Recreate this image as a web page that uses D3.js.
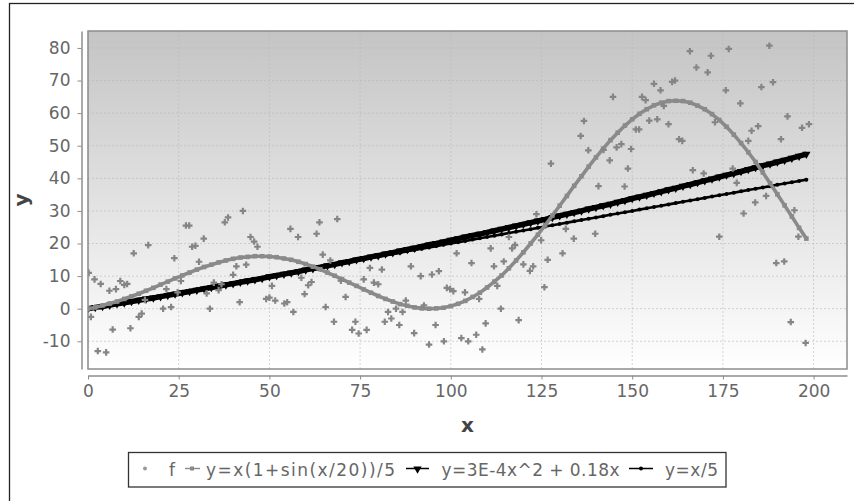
<!DOCTYPE html>
<html>
<head>
  <meta charset="utf-8" />
  <script src="https://d3js.org/d3.v7.min.js"></script>
  <style>
    body { margin: 0; background: #fff; }
    svg { display: block; font-family: "DejaVu Sans", sans-serif; }
  </style>
</head>
<body>
  <script>
    // sample positions of the three function series
    var sampleX = [0,2,4,6,8,10,12,14,16,18,20,22,24,26,28,30,32,34,36,38,
      40,42,44,46,48,50,52,54,56,58,60,62,64,66,68,70,72,74,76,78,
      80,82,84,86,88,90,92,94,96,98,100,102,104,106,108,110,112,114,116,118,
      120,122,124,126,128,130,132,134,136,138,140,142,144,146,148,150,152,154,156,158,
      160,162,164,166,168,170,172,174,176,178,180,182,184,186,188,190,192,194,196,198];

    // y=x(1+sin(x/20))/5
    var sinY = [0,0.4,1.0,1.6,2.2,3.0,3.8,4.6,5.5,6.4,
      7.4,8.3,9.3,10.2,11.1,12.0,12.8,13.5,14.2,14.8,
      15.3,15.7,15.9,16.1,16.1,16.0,15.8,15.4,15.0,14.4,
      13.7,12.9,12.1,11.1,10.1,9.1,8.0,7.0,5.9,4.9,
      3.9,3.0,2.2,1.4,0.9,0.4,0.1,0.0,0.1,0.3,
      0.8,1.5,2.4,3.6,4.9,6.5,8.3,10.2,12.4,14.8,
      17.3,20.0,22.7,25.6,28.6,31.6,34.6,37.7,40.6,43.6,
      46.4,49.1,51.7,54.0,56.2,58.1,59.8,61.2,62.4,63.2,
      63.7,63.8,63.7,63.2,62.3,61.2,59.7,57.9,55.8,53.4,
      50.8,48.0,45.0,41.8,38.5,35.1,31.7,28.3,24.8,21.5];

    // y=3E-4x^2 + 0.18x
    var quadY = [0,0.4,0.7,1.1,1.5,1.8,2.2,2.6,3.0,3.3,
      3.7,4.1,4.5,4.9,5.3,5.7,6.1,6.5,6.9,7.3,
      7.7,8.1,8.5,8.9,9.3,9.8,10.2,10.6,11.0,11.4,
      11.9,12.3,12.7,13.2,13.6,14.1,14.5,15.0,15.4,15.9,
      16.3,16.8,17.2,17.7,18.2,18.6,19.1,19.6,20.0,20.5,
      21.0,21.5,22.0,22.5,22.9,23.4,23.9,24.4,24.9,25.4,
      25.9,26.4,26.9,27.4,28.0,28.5,29.0,29.5,30.0,30.6,
      31.1,31.6,32.1,32.7,33.2,33.8,34.3,34.8,35.4,35.9,
      36.5,37.0,37.6,38.1,38.7,39.3,39.8,40.4,41.0,41.5,
      42.1,42.7,43.3,43.9,44.4,45.0,45.6,46.2,46.8,47.4];

    // y=x/5
    var linY = [0,0.4,0.8,1.2,1.6,2,2.4,2.8,3.2,3.6,
      4,4.4,4.8,5.2,5.6,6,6.4,6.8,7.2,7.6,
      8,8.4,8.8,9.2,9.6,10,10.4,10.8,11.2,11.6,
      12,12.4,12.8,13.2,13.6,14,14.4,14.8,15.2,15.6,
      16,16.4,16.8,17.2,17.6,18,18.4,18.8,19.2,19.6,
      20,20.4,20.8,21.2,21.6,22,22.4,22.8,23.2,23.6,
      24,24.4,24.8,25.2,25.6,26,26.4,26.8,27.2,27.6,
      28,28.4,28.8,29.2,29.6,30,30.4,30.8,31.2,31.6,
      32,32.4,32.8,33.2,33.6,34,34.4,34.8,35.2,35.6,
      36,36.4,36.8,37.2,37.6,38,38.4,38.8,39.2,39.6];

    // scattered series "f"
    var fX = [0.2,0.8,1.8,2.7,3.5,5,5.9,6.8,7.7,8.9,10,10.8,11.7,12.6,14,14.8,15.7,16.6,20.7,21.6,
      22.9,23.8,24.7,25.6,27,27.9,28.7,29.6,30.6,31.9,32.7,33.6,34.7,36,36.8,37.7,38.6,40,40.9,41.8,
      42.7,43.6,44.8,45.8,46.7,49.1,50,50.7,51.6,54.1,54.9,55.8,56.6,57.9,58.8,59.7,60.7,61.6,63,63.8,
      64.7,65.5,66.8,67.8,68.7,69.7,71,72.8,73.7,74.6,76,76.8,77.7,78.8,80,81,81.8,82.7,83.6,84.9,
      85.8,86.7,87.6,89,89.9,91.7,92.6,94,94.8,95.8,96.7,98.1,98.9,99.8,100.7,101.6,102.9,103.9,104.8,105.7,
      107,107.8,108.7,109.6,111,111.9,112.8,113.8,114.6,116,116.9,117.7,118.7,120,121.8,122.7,123.6,124.9,125.8,126.7,
      127.6,130.8,131.7,133.9,135.8,136.7,137.9,139.8,140.7,142.1,143.8,144.7,145.7,147,147.9,148.8,149.7,151,151.9,152.7,
      153.7,154.7,156,156.9,157.8,158.7,160,161,161.8,162.9,163.8,165.9,166.7,167.7,169.7,170.8,171.7,172.8,174,175.8,
      176.6,177.7,178.8,179.8,180.7,182,182.9,183.9,184.7,185.6,186.9,187.8,188.8,189.7,191,191.9,192.8,193.7,194.7,195.8,
      196.8,197.8,198.7];
    var fY = [11,-2.5,9,-13,7.6,-13.4,5.5,-6.4,6,8.5,7.3,7.6,-6,17,-2.5,-1.5,2.7,19.5,0,6,
      0.5,15.5,5,8.5,25.5,25.5,19,19.3,14.4,21.5,4.7,0,8,5.7,7.5,26.5,28,10.4,13,2,
      30,13.5,22,20.6,19,3,3.4,7,2.5,1.6,2,24.5,-1,22,9.5,4.5,7.2,8.2,23,26.5,
      16.6,0.5,14.8,-4,27.5,8.6,3.6,-6.5,-4,-7.6,9,-6.5,12.5,8,7.5,12,-4,-1,-3,0,
      -5,-1,2.5,13,-7.5,10,1,-11,10.5,-5,11.5,-10,6.4,6,5.4,17,-9,5,-10,14,
      -8,3,-12.5,-4.5,18.5,13,7,0,14.5,22,18.5,19.5,-3.5,13.6,11.6,13,29,21,6.6,15,
      44.5,17,24.5,21.5,53,57.6,48.6,23,37.6,48.7,45.5,65,49.5,50.5,37.5,43,49,55,55,65,
      64,57.7,69,58.1,67,62.2,56.6,69.6,70,52,51.5,79,42.5,74,41.5,72.5,77.6,57.2,22.1,67,
      79.7,43,38.6,63,29.2,51.5,54.6,32.6,56,68,34.6,80.7,69.5,14,52,14.5,59,-4.1,30.2,22.1,
      55.5,-10.5,56.6];

    var xTicks = [0, 25, 50, 75, 100, 125, 150, 175, 200];
    var yTicks = [-10, 0, 10, 20, 30, 40, 50, 60, 70, 80];
    var legendLabels = ["f", "y=x(1+sin(x/20))/5", "y=3E-4x^2 + 0.18x", "y=x/5"];

    var width = 854, height = 501;
    var plotL = 88, plotR = 847, plotT = 31, plotB = 369;

    var svg = d3.select("body").append("svg")
      .attr("width", width)
      .attr("height", height);

    // outer chart border (runs past the window on the right and bottom)
    svg.append("rect")
      .attr("x", 9.5).attr("y", 3.5)
      .attr("width", 900).attr("height", 600)
      .attr("fill", "#fff")
      .attr("stroke", "#222")
      .attr("stroke-width", 1.3);

    var x = d3.scaleLinear().domain([0, 209.2]).range([plotL, plotR]);
    var y = d3.scaleLinear().domain([-18.5, 85.2]).range([plotB, plotT]);

    var defs = svg.append("defs");
    var grad = defs.append("linearGradient")
      .attr("id", "bg").attr("x1", 0).attr("y1", 0).attr("x2", 0).attr("y2", 1);
    grad.append("stop").attr("offset", "0%").attr("stop-color", "#c4c4c4");
    grad.append("stop").attr("offset", "100%").attr("stop-color", "#ffffff");
    defs.append("clipPath").attr("id", "clip")
      .append("rect").attr("x", plotL).attr("y", plotT)
      .attr("width", plotR - plotL).attr("height", plotB - plotT);

    svg.append("rect")
      .attr("x", plotL).attr("y", plotT)
      .attr("width", plotR - plotL).attr("height", plotB - plotT)
      .attr("fill", "url(#bg)");

    // grid
    var grid = svg.append("g").attr("stroke", "#b8b8b8").attr("stroke-width", 0.6)
      .attr("stroke-dasharray", "2,2");
    grid.selectAll(".gx").data(xTicks).enter().append("line")
      .attr("x1", function (d) { return x(d); }).attr("x2", function (d) { return x(d); })
      .attr("y1", plotT).attr("y2", plotB);
    grid.selectAll(".gy").data(yTicks).enter().append("line")
      .attr("x1", plotL).attr("x2", plotR)
      .attr("y1", function (d) { return y(d); }).attr("y2", function (d) { return y(d); });

    var plot = svg.append("g").attr("clip-path", "url(#clip)");
    var pts = function (ys) { return sampleX.map(function (v, i) { return [v, ys[i]]; }); };
    var line = d3.line().x(function (d) { return x(d[0]); }).y(function (d) { return y(d[1]); });

    // y=x/5
    plot.append("path").datum(pts(linY))
      .attr("d", line).attr("fill", "none").attr("stroke", "#000").attr("stroke-width", 2.6);
    plot.selectAll(".lin").data(pts(linY)).enter().append("circle")
      .attr("cx", function (d) { return x(d[0]); }).attr("cy", function (d) { return y(d[1]); })
      .attr("r", 2).attr("fill", "#000");

    // quadratic
    plot.append("path").datum(pts(quadY))
      .attr("d", line).attr("fill", "none").attr("stroke", "#000").attr("stroke-width", 5.5);
    var tri = d3.symbol().type(d3.symbolTriangle).size(30);
    plot.selectAll(".quad").data(pts(quadY)).enter().append("path")
      .attr("d", tri)
      .attr("transform", function (d) { return "translate(" + x(d[0]) + "," + y(d[1]) + ") rotate(180)"; })
      .attr("fill", "#000");

    // grey sine curve
    plot.append("path").datum(pts(sinY))
      .attr("d", line).attr("fill", "none").attr("stroke", "#8a8a8a").attr("stroke-width", 3.6);
    plot.selectAll(".sin").data(pts(sinY)).enter().append("rect")
      .attr("x", function (d) { return x(d[0]) - 2.3; }).attr("y", function (d) { return y(d[1]) - 2.3; })
      .attr("width", 4.6).attr("height", 4.6).attr("fill", "#8a8a8a");

    // scatter f
    var cross = d3.symbol().type(d3.symbolCross).size(24);
    plot.selectAll(".f").data(fX).enter().append("path")
      .attr("d", cross)
      .attr("transform", function (d, i) { return "translate(" + x(d) + "," + y(fY[i]) + ")"; })
      .attr("fill", "#858585");

    // plot outline
    svg.append("rect")
      .attr("x", plotL).attr("y", plotT)
      .attr("width", plotR - plotL).attr("height", plotB - plotT)
      .attr("fill", "none").attr("stroke", "#8c8c8c").attr("stroke-width", 1.5);

    // axes
    var fmt = function (d) { return String(d); };
    var xAxis = svg.append("g")
      .attr("transform", "translate(0,375.5)")
      .call(d3.axisBottom(x).tickValues(xTicks).tickFormat(fmt).tickSizeInner(4).tickSizeOuter(0).tickPadding(5));
    var yAxis = svg.append("g")
      .attr("transform", "translate(81.5,0)")
      .call(d3.axisLeft(y).tickValues(yTicks).tickFormat(fmt).tickSizeInner(4).tickSizeOuter(0).tickPadding(7));
    [xAxis, yAxis].forEach(function (a) {
      a.select(".domain").attr("stroke", "#8c8c8c").attr("stroke-width", 1.5);
      a.selectAll(".tick line").attr("stroke", "#8c8c8c");
      a.selectAll("text").attr("fill", "#666").style("font-size", "17px")
        .style("font-family", "'DejaVu Sans', sans-serif");
    });

    svg.append("text")
      .attr("x", (plotL + plotR) / 2).attr("y", 432)
      .attr("text-anchor", "middle")
      .attr("font-size", 20).attr("font-weight", "bold").attr("fill", "#444")
      .text("x");
    svg.append("text")
      .attr("transform", "translate(28,200) rotate(-90)")
      .attr("text-anchor", "middle")
      .attr("font-size", 20).attr("font-weight", "bold").attr("fill", "#444")
      .text("y");

    // legend
    var lg = svg.append("g");
    lg.append("rect")
      .attr("x", 128.5).attr("y", 452.5).attr("width", 597.5).attr("height", 34.5)
      .attr("fill", "#fff").attr("stroke", "#333").attr("stroke-width", 1.3);
    var ly = 468.5;
    lg.append("circle").attr("cx", 145).attr("cy", ly).attr("r", 2).attr("fill", "#999");
    lg.append("line").attr("x1", 185).attr("x2", 200).attr("y1", ly).attr("y2", ly)
      .attr("stroke", "#8a8a8a").attr("stroke-width", 1.4);
    lg.append("rect").attr("x", 190).attr("y", ly - 2).attr("width", 4).attr("height", 4).attr("fill", "#8a8a8a");
    lg.append("line").attr("x1", 406).attr("x2", 429).attr("y1", ly).attr("y2", ly)
      .attr("stroke", "#000").attr("stroke-width", 1.5);
    lg.append("path").attr("d", d3.symbol().type(d3.symbolTriangle).size(30))
      .attr("transform", "translate(417.5," + (ly + 0.5) + ") rotate(180)").attr("fill", "#000");
    lg.append("line").attr("x1", 629).attr("x2", 653).attr("y1", ly).attr("y2", ly)
      .attr("stroke", "#000").attr("stroke-width", 1.5);
    lg.append("circle").attr("cx", 641).attr("cy", ly).attr("r", 2).attr("fill", "#000");

    var legendPos = [[169, 6], [206, 189], [441.5, 178], [665, 53]];
    lg.selectAll(".lt").data(legendLabels).enter().append("text")
      .attr("x", function (d, i) { return legendPos[i][0]; })
      .attr("y", 475.5)
      .attr("textLength", function (d, i) { return legendPos[i][1]; })
      .attr("lengthAdjust", "spacing")
      .attr("font-size", 17).attr("fill", "#666")
      .text(function (d) { return d; });
  </script>
</body>
</html>
